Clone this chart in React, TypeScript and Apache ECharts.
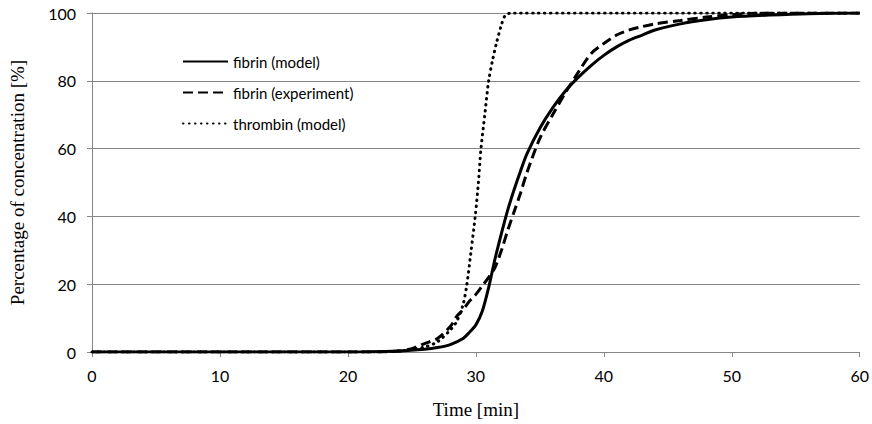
import React, { useEffect, useRef } from "react";
import * as echarts from "echarts";

const xTicks = [0, 10, 20, 30, 40, 50, 60];
const yTicks = [0, 20, 40, 60, 80, 100];

const seriesNames = ["fibrin (model)", "fibrin (experiment)", "thrombin (model)"];

const fibrinModel: [number, number][] = [
  [0, 0], [20, 0], [24, 0.3], [26, 0.8], [27, 1.3], [28, 2.2], [29, 4], [29.5, 5.8],
  [30, 8], [30.5, 12], [31, 19], [31.5, 27.5], [32, 35], [32.5, 42], [33, 48], [33.5, 53.5],
  [34, 58.5], [35, 66], [36, 72], [37, 77], [38, 81], [39, 84.5], [40, 87.5], [41, 90],
  [42, 92], [43, 93.5], [44, 95], [46, 96.8], [48, 98], [50, 98.8], [53, 99.4],
  [56, 99.8], [60, 100],
];

const fibrinExperiment: [number, number][] = [
  [0, 0], [22, 0], [24, 0.3], [25, 1], [26, 2.5], [27, 4], [28, 7.5], [28.5, 10.5],
  [29, 12.5], [29.5, 15], [30, 17], [30.5, 19.5], [31, 22], [31.5, 25], [32, 30],
  [32.5, 36], [33, 41.5], [33.5, 47], [34, 53], [35, 63], [36, 70], [37, 76.5], [38, 82.5],
  [39, 88], [40, 91], [41, 93.5], [42, 95], [43, 96], [44, 96.8], [46, 97.8], [48, 98.8],
  [50, 99.5], [52, 100], [60, 100],
];

const thrombinModel: [number, number][] = [
  [0, 0], [22, 0], [24, 0.3], [25, 0.8], [26, 1.5], [27, 3], [28, 6.5], [28.5, 9],
  [29, 14], [29.3, 20], [29.6, 29], [29.95, 40], [30.2, 50], [30.4, 60], [30.7, 70],
  [31, 80], [31.3, 86], [31.6, 91], [32, 96.5], [32.3, 99.3], [32.8, 100], [60, 100],
];

export default function App() {
  const ref = useRef<HTMLDivElement>(null);
  useEffect(() => {
    if (!ref.current) return;
    document.body.style.margin = "0";
    const chart = echarts.init(ref.current, undefined, { renderer: "svg" });
    const axisGray = "#868686";
    chart.setOption({
      animation: false,
      backgroundColor: "#ffffff",
      grid: { left: 87, right: 12, top: 13, bottom: 68, containLabel: false },
      legend: {
        orient: "vertical",
        left: 177,
        top: 49,
        itemWidth: 45,
        itemHeight: 14,
        itemGap: 16,
        data: seriesNames,
        itemStyle: { opacity: 0, borderWidth: 0 },
        textStyle: { fontFamily: "Lato", fontSize: 15, color: "#000" },
      },
      xAxis: {
        type: "value",
        min: xTicks[0],
        max: xTicks[xTicks.length - 1],
        interval: 10,
        name: "Time [min]",
        nameLocation: "middle",
        nameGap: 48,
        nameTextStyle: { fontFamily: "Liberation Serif", fontSize: 19, color: "#000" },
        axisLine: { show: true, lineStyle: { color: axisGray, width: 1 } },
        axisTick: { show: true, length: 5, lineStyle: { color: axisGray } },
        axisLabel: { fontFamily: "Lato", fontSize: 16, color: "#000", margin: 15 },
        splitLine: { show: false },
      },
      yAxis: {
        type: "value",
        min: yTicks[0],
        max: yTicks[yTicks.length - 1],
        interval: 20,
        name: "Percentage of concentration [%]",
        nameLocation: "middle",
        nameGap: 65,
        nameTextStyle: { fontFamily: "Liberation Serif", fontSize: 19, color: "#000" },
        axisLine: { show: true, lineStyle: { color: axisGray, width: 1 } },
        axisTick: { show: true, length: 5, lineStyle: { color: axisGray } },
        axisLabel: { fontFamily: "Lato", fontSize: 16, color: "#000", margin: 16 },
        splitLine: { show: true, lineStyle: { color: axisGray, width: 1 } },
      },
      series: [
        {
          name: seriesNames[0],
          type: "line",
          data: fibrinModel,
          smooth: 0.3,
          symbol: "none",
          lineStyle: { color: "#000", width: 3, type: "solid" },
          itemStyle: { color: "#000" },
          z: 3,
        },
        {
          name: seriesNames[1],
          type: "line",
          data: fibrinExperiment,
          smooth: 0.3,
          symbol: "none",
          lineStyle: { color: "#000", width: 3, type: [10, 5] },
          itemStyle: { color: "#000" },
          z: 2,
        },
        {
          name: seriesNames[2],
          type: "line",
          data: thrombinModel,
          smooth: 0.3,
          symbol: "none",
          lineStyle: { color: "#000", width: 3, type: [0.5, 5.5], cap: "round" },
          itemStyle: { color: "#000" },
          z: 1,
        },
      ],
    });
    return () => chart.dispose();
  }, []);
  return <div ref={ref} style={{ width: 872, height: 424 }} />;
}
